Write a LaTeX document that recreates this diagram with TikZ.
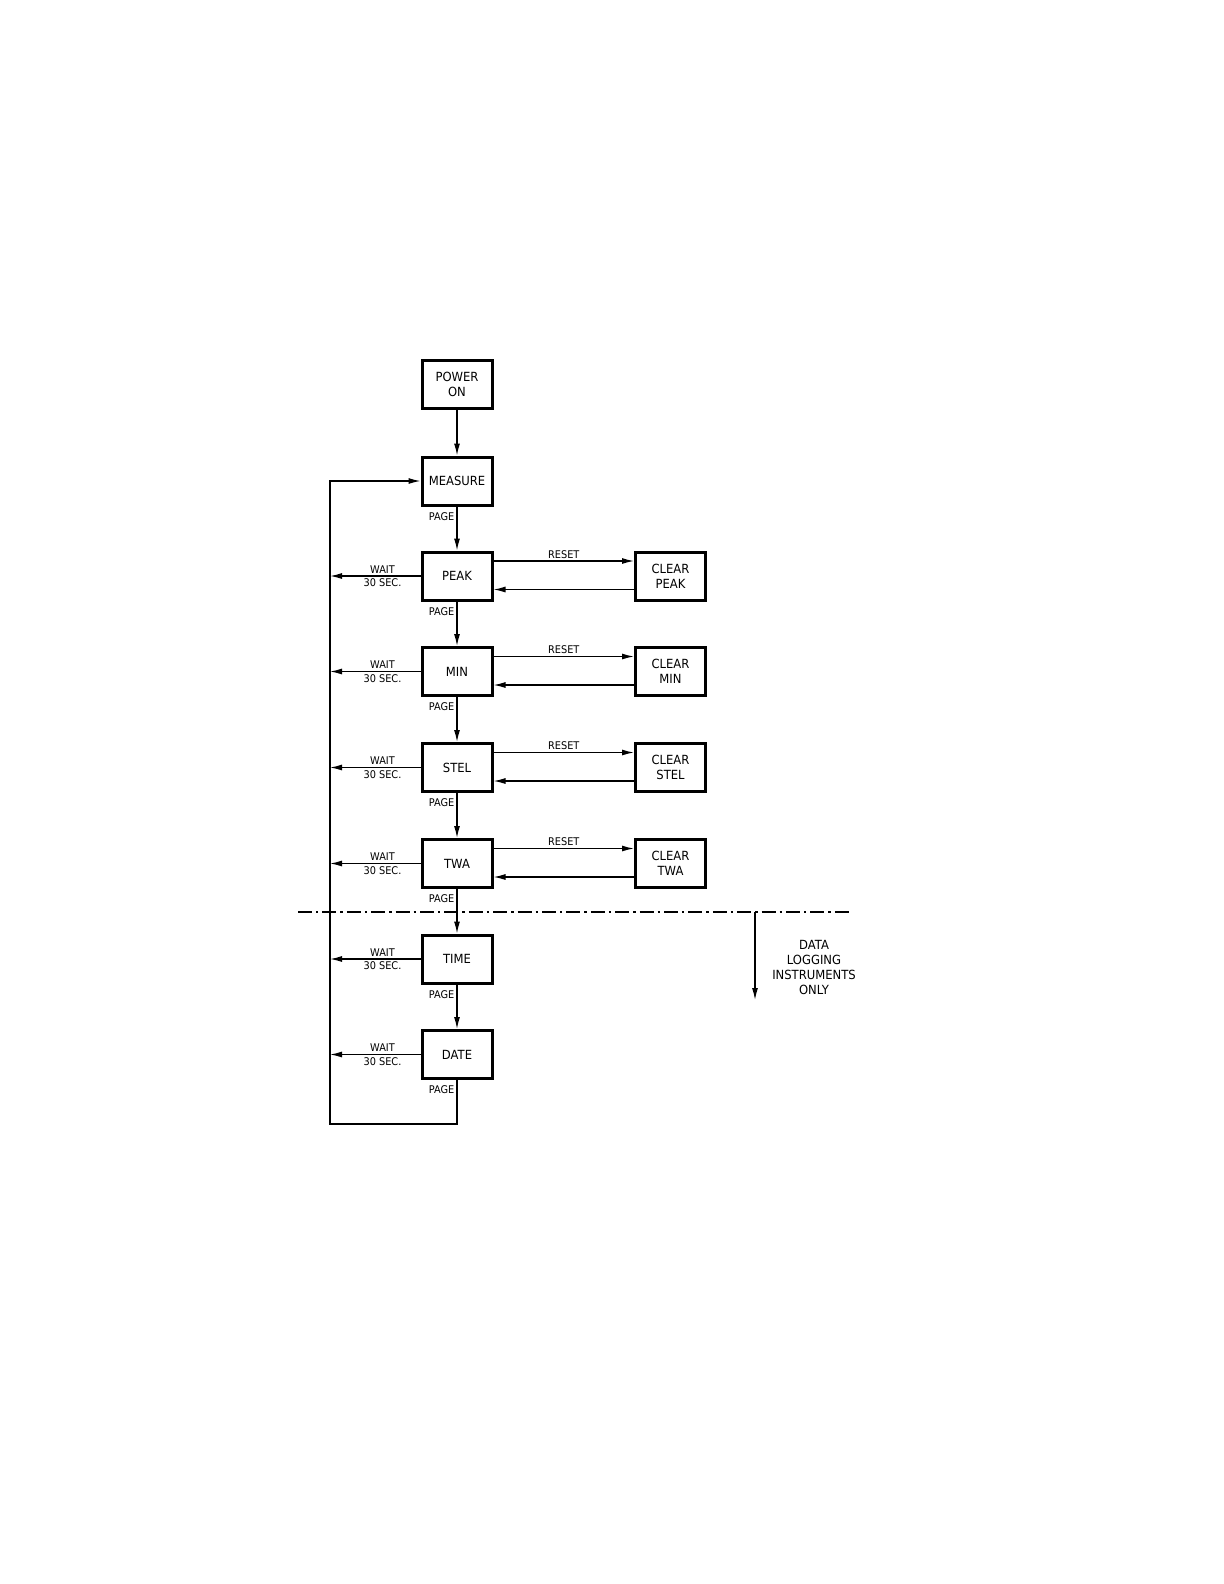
\documentclass[tikz,border=0pt]{standalone}
\usepackage{fontspec}
\setmainfont{DejaVu Sans}[FakeStretch=0.92]
\usetikzlibrary{arrows.meta,positioning}
\tikzset{
  box/.style={draw=black,line width=1.5pt,minimum width=35pt,minimum height=24pt,inner sep=1pt,align=center,font=\fontsize{6.3}{7.5}\selectfont},
  lbl/.style={font=\fontsize{5.3}{6.4}\selectfont,inner sep=1pt,align=center},
  note/.style={font=\fontsize{6.3}{7.5}\selectfont,inner sep=0pt,align=center},
  ar/.style={-{Latex[length=6pt,width=3pt]},line width=.65pt},
  sep/.style={line width=.75pt,dash pattern=on 7pt off 2pt on 1.2pt off 2pt},
}
\begin{document}
\begin{tikzpicture}[x=0.5pt,y=-0.5pt]
  \useasboundingbox (0,0) rectangle (1224,1584);
  % ── main column ──
  \node[box] (pwr) at (457,384) {POWER\\ON};
  \node[box] (meas) at (457,481) {MEASURE};
  \node[box] (peak) at (457,576) {PEAK};
  \node[box] (min) at (457,671.5) {MIN};
  \node[box] (stel) at (457,767.5) {STEL};
  \node[box] (twa) at (457,863.5) {TWA};
  \node[box] (time) at (457,959) {TIME};
  \node[box] (date) at (457,1054.5) {DATE};
  % ── clear boxes ──
  \node[box] (cpeak) at (670.5,576) {CLEAR\\PEAK};
  \node[box] (cmin) at (670.5,671.5) {CLEAR\\MIN};
  \node[box] (cstel) at (670.5,767.5) {CLEAR\\STEL};
  \node[box] (ctwa) at (670.5,863.5) {CLEAR\\TWA};
  \coordinate (lft) at (330,481);
  \coordinate (bot) at (330,1124);
  % ── page chain ──
  \draw[ar] (pwr) -- (meas);
  \foreach \a/\b in {meas/peak,peak/min,min/stel,stel/twa,twa/time,time/date}{
    \draw[ar] (\a) -- node[lbl,pos=.22,left]{PAGE} (\b);
  }
  \draw[ar] (date.south) -- node[lbl,pos=.23,left]{PAGE} (date.south |- bot) -- (bot) -- (lft) -- (meas.west);
  % ── wait 30 sec ──
  \foreach \a in {peak,min,stel,twa,time,date}{
    \draw[ar] (\a.west) -- node[lbl,above,pos=.42]{WAIT} node[lbl,below,pos=.42]{30 SEC.} (\a.west -| lft);
  }
  % ── reset loops ──
  \foreach \a/\b in {peak/cpeak,min/cmin,stel/cstel,twa/ctwa}{
    \draw[ar] ([yshift=7.5pt]\a.east) -- node[lbl,above]{RESET} ([yshift=7.5pt]\b.west);
    \draw[ar] ([yshift=-6.75pt]\b.west) -- ([yshift=-6.75pt]\a.east);
  }
  % ── data logging split ──
  \coordinate (sepl) at (298,912); \coordinate (sepr) at (851,912);
  \coordinate (dl0) at (755,912); \coordinate (dl1) at (755,1000);
  \draw[sep] (sepl) -- (sepr);
  \draw[ar] (dl0) -- (dl1);
  \node[note] (dli) at (814,967.5) {DATA\\LOGGING\\INSTRUMENTS\\ONLY};
\end{tikzpicture}
\end{document}
